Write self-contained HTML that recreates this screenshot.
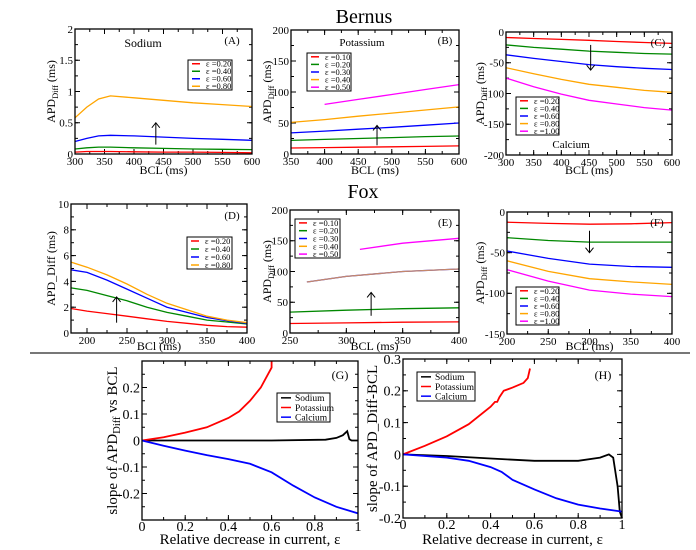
<!DOCTYPE html>
<html><head><meta charset="utf-8"><style>
body{margin:0;background:#fff}
svg{display:block;font-family:"Liberation Serif",serif}
</style></head><body>
<svg id="fig" width="696" height="550" viewBox="0 0 696 550">
<text x="364" y="23" font-size="20" text-anchor="middle">Bernus</text>
<text x="363" y="198" font-size="20" text-anchor="middle">Fox</text>
<line x1="30" y1="353" x2="690" y2="353" stroke="#777" stroke-width="2"/>
</svg>
<script>
// ---- data ----
const A_x=[300,320,340,360,400,450,500,550,600];
const A_r=[0.03,0.04,0.04,0.04,0.035,0.03,0.03,0.025,0.02];
const A_g=[0.08,0.10,0.11,0.11,0.10,0.09,0.08,0.075,0.07];
const A_b=[0.20,0.25,0.29,0.30,0.29,0.27,0.25,0.235,0.22];
const A_o=[0.58,0.75,0.88,0.93,0.90,0.86,0.82,0.79,0.76];
const B_x=[350,400,450,500,550,600];
const B_r=[9.6,10.3,11,11.6,12.3,13];
const B_g=[22,23.5,25,26.5,28,29];
const B_b=[34,37,40,43,46.5,50];
const B_o=[51,55.5,61,66,71,76];
const B_mx=[400,450,500,550,600];
const B_m=[80,88,96,104,112];
const C_x=[300,350,400,450,500,550,600];
const C_r=[-9,-10.5,-12,-13.5,-15.5,-17,-18.5];
const C_g=[-21,-25,-28,-31,-33,-35,-36];
const C_b=[-37,-43,-48,-53,-56.5,-59,-61];
const C_o=[-58,-68,-77,-85,-90,-95,-98];
const C_m=[-75,-89,-101,-111,-117,-123,-127];
const D_x=[180,200,225,250,275,300,325,350,375,400];
const D_r=[1.9,1.7,1.5,1.3,1.1,0.9,0.75,0.6,0.5,0.45];
const D_g=[3.5,3.3,2.9,2.5,2.0,1.6,1.3,1.0,0.85,0.7];
const D_b=[4.9,4.7,4.1,3.4,2.7,2.0,1.6,1.2,0.95,0.75];
const D_o=[5.5,5.1,4.5,3.8,3.0,2.3,1.8,1.3,1.0,0.8];
const E_x=[250,300,350,400];
const E_r=[15.5,16.5,17.5,18];
const E_g=[34,37,39.5,41];
const E_bx=[265,300,350,400];
const E_b=[83,92,100,104];
const E_o=[83,92,100,104];
const E_mx=[312,350,400];
const E_m=[136,146,154];
const F_x=[200,250,300,350,400];
const F_r=[-12.5,-14,-15,-14.5,-13];
const F_g=[-31.6,-35,-37,-37,-37];
const F_b=[-48,-57,-64,-67,-68];
const F_o=[-60,-73,-82,-86,-89];
const F_m=[-71,-85,-96,-101,-104];
const G_kx=[0,0.2,0.4,0.6,0.85,0.9,0.93,0.95,0.96,0.97,1];
const G_k=[0,0,0,0,0.003,0.01,0.02,0.035,0.005,0,0];
const G_rx=[0,0.1,0.2,0.3,0.4,0.45,0.5,0.55,0.6,0.6];
const G_r=[0,0.012,0.03,0.05,0.085,0.11,0.15,0.2,0.275,0.3];
const G_bx=[0,0.1,0.2,0.3,0.4,0.5,0.6,0.7,0.8,0.9,1];
const G_b=[0,-0.02,-0.038,-0.055,-0.07,-0.088,-0.12,-0.17,-0.215,-0.25,-0.275];
const H_kx=[0,0.2,0.4,0.6,0.8,0.9,0.94,0.96,0.98,0.99,1];
const H_k=[0,-0.005,-0.013,-0.02,-0.02,-0.01,0,-0.01,-0.1,-0.18,-0.2];
const H_rx=[0,0.1,0.2,0.3,0.4,0.42,0.43,0.44,0.46,0.5,0.55,0.57,0.58];
const H_r=[0,0.027,0.057,0.095,0.15,0.165,0.165,0.18,0.2,0.21,0.225,0.24,0.27];
const H_bx=[0,0.2,0.3,0.4,0.45,0.5,0.6,0.7,0.8,0.9,1];
const H_b=[0,-0.01,-0.02,-0.04,-0.055,-0.08,-0.11,-0.138,-0.158,-0.17,-0.18];

const RED='#ff0000',GRN='#008800',BLU='#0000ff',ORG='#ffa500',MAG='#ff00ff',BLK='#000';
const NS='http://www.w3.org/2000/svg';
const svg=document.getElementById('fig');
function el(tag,attrs,parent){const e=document.createElementNS(NS,tag);for(const k in attrs)e.setAttribute(k,attrs[k]);(parent||svg).appendChild(e);return e;}

function panel(p){
  const g=el('g',{});
  
  
  const sx=v=>p.L+(v-p.xd[0])/(p.xd[1]-p.xd[0])*(p.R-p.L);
  const sy=v=>p.B-(v-p.yd[0])/(p.yd[1]-p.yd[0])*(p.B-p.T);
  const fs=p.fs||11;
  const xlo=p.xlo||11;
  p.xt.forEach(v=>{const x=sx(v);
    const t=el('line',{x1:x,y1:p.B,x2:x,y2:p.B-5,stroke:'#000'},g);
    el('line',{x1:x,y1:p.T,x2:x,y2:p.T+5,stroke:'#000'},g);
    const l=el('text',{x:x,y:p.B+xlo,'font-size':fs,'text-anchor':'middle'},g);l.textContent=v;
    
  });
  const xm=(p.xt[1]-p.xt[0])/2;
  for(let v=p.xt[0]-xm;v<=p.xd[1];v+=xm){if(v<p.xd[0])continue;const x=sx(v);
    el('line',{x1:x,y1:p.B,x2:x,y2:p.B-3,stroke:'#000'},g);el('line',{x1:x,y1:p.T,x2:x,y2:p.T+3,stroke:'#000'},g);}
  p.yt.forEach(v=>{const y=sy(v);
    const t=el('line',{x1:p.L,y1:y,x2:p.L+5,y2:y,stroke:'#000'},g);
    el('line',{x1:p.R,y1:y,x2:p.R-5,y2:y,stroke:'#000'},g);
    const l=el('text',{x:p.L-2,y:y+fs*0.35,'font-size':fs,'text-anchor':'end'},g);l.textContent=v;
    
  });
  const ym=(p.yt[1]-p.yt[0])/2;
  for(let v=p.yd[0];v<=p.yd[1]+1e-9;v+=ym){const y=sy(v);
    el('line',{x1:p.L,y1:y,x2:p.L+3,y2:y,stroke:'#000'},g);el('line',{x1:p.R,y1:y,x2:p.R-3,y2:y,stroke:'#000'},g);}
  p.series.forEach(s=>{
    const d=s.x.map((v,i)=>(i?'L':'M')+sx(v).toFixed(1)+','+sy(s.y[i]).toFixed(1)).join('');
    const path=el('path',{d:d,fill:'none',stroke:s.c,'stroke-width':p.sw||1.3,opacity:s.op||1},g);
    
    
  });
  const box=el('rect',{x:p.L,y:p.T,width:p.R-p.L,height:p.B-p.T,fill:'none',stroke:'#000','stroke-width':1.3},g);
  
  if(p.leg){const lg=p.leg;
    const lgg=el('g',{},g);
    el('rect',{x:lg.x,y:lg.y,width:lg.w,height:lg.h,fill:'#fff',stroke:'#000','stroke-width':1},lgg);
    const step=lg.h/lg.items.length;
    lg.items.forEach((it,i)=>{const yy=lg.y+step*(i+0.5);
      el('line',{x1:lg.x+4,y1:yy,x2:lg.x+(lg.lw||12),y2:yy,stroke:it[1],'stroke-width':1.5},lgg);
      const t=el('text',{x:lg.x+(lg.tx||18),y:yy+(lg.fs||8.5)*0.35,'font-size':lg.fs||8.5},lgg);t.textContent=it[0];
      });
  }
  (p.texts||[]).forEach(t=>{const e=el('text',{x:t[1],y:t[2],'font-size':t[3]||11,'text-anchor':'middle'},g);e.textContent=t[0];
    });
  if(p.arrow){const a=p.arrow;const x=sx(a[0]),y1=sy(a[1]),y2=sy(a[2]);const dir=y2<y1?1:-1;
    const ag=el('g',{stroke:'#000','stroke-width':1,fill:'none'},g);
    el('line',{x1:x,y1:y1,x2:x,y2:y2},ag);el('path',{d:`M${x-4},${y2+5*dir}L${x},${y2}L${x+4},${y2+5*dir}`},ag);}
  const xl=el('text',{x:(p.L+p.R)/2,y:p.xly,'font-size':p.tfs||12,'text-anchor':'middle'},g);xl.textContent=p.xl;
  
  const yl=el('text',{x:0,y:0,'font-size':p.tfs||12,'text-anchor':'middle',transform:`translate(${p.ylx},${(p.T+p.B)/2}) rotate(-90)`},g);
  
  p.yl.forEach(seg=>{const ts=el('tspan',seg[1]?{dy:3,'font-size':(p.tfs||12)*0.7}:(seg[2]?{dy:-3}:{}),yl);ts.textContent=seg[0];});
}
const eps=(a)=>a.map((v,i)=>['\u03b5 ='+v,[RED,GRN,BLU,ORG,MAG][i]]);
panel({name:'panel-a-sodium',L:75,R:252,T:29,B:154,xd:[300,600],yd:[0,2],xt:[300,350,400,450,500,550,600],yt:[0,0.5,1,1.5,2],
  series:[{x:A_x,y:A_r,c:RED,n:'a-eps-0.20'},{x:A_x,y:A_g,c:GRN,n:'a-eps-0.40'},{x:A_x,y:A_b,c:BLU,n:'a-eps-0.60'},{x:A_x,y:A_o,c:ORG,n:'a-eps-0.80'}],
  leg:{x:188,y:60,w:44,h:30,items:eps(['0.20','0.40','0.60','0.80'])},
  texts:[['Sodium',143,47,12],['(A)',232,44,11]],arrow:[437,0.15,0.5],xl:'BCL (ms)',xly:174,ylx:55,yl:[['APD'],['Diff',1],[' (ms)',0,1]]});
panel({name:'panel-b-potassium',L:291,R:459,T:30,B:154,xd:[350,600],yd:[0,200],xt:[350,400,450,500,550,600],yt:[0,50,100,150,200],
  series:[{x:B_x,y:B_r,c:RED,n:'b-eps-0.10'},{x:B_x,y:B_g,c:GRN,n:'b-eps-0.20'},{x:B_x,y:B_b,c:BLU,n:'b-eps-0.30'},{x:B_x,y:B_o,c:ORG,n:'b-eps-0.40'},{x:B_mx,y:B_m,c:MAG,n:'b-eps-0.50'}],
  leg:{x:307,y:53,w:44,h:38,items:eps(['0.10','0.20','0.30','0.40','0.50'])},
  texts:[['Potassium',362,46,11],['(B)',445,44,11]],arrow:[478,14,46],xl:'BCL (ms)',xly:174,ylx:271,yl:[['APD'],['Diff',1],[' (ms)',0,1]]});
panel({name:'panel-c-calcium',L:506,R:672,T:32,B:155,xd:[300,600],yd:[-200,0],xt:[300,350,400,450,500,550,600],yt:[-200,-150,-100,-50,0],
  series:[{x:C_x,y:C_r,c:RED,n:'c-eps-0.20'},{x:C_x,y:C_g,c:GRN,n:'c-eps-0.40'},{x:C_x,y:C_b,c:BLU,n:'c-eps-0.60'},{x:C_x,y:C_o,c:ORG,n:'c-eps-0.80'},{x:C_x,y:C_m,c:MAG,n:'c-eps-1.00'}],
  leg:{x:516,y:97,w:43,h:38,items:eps(['0.20','0.40','0.60','0.80','1.00'])},
  texts:[['Calcium',571,148,11],['(C)',658,46,11]],arrow:[453,-21,-62],xl:'BCL (ms)',xly:174,ylx:484,yl:[['APD'],['Diff',1],[' (ms)',0,1]]});
panel({name:'panel-d-fox-sodium',L:71,R:247,T:204,B:333,xd:[180,400],yd:[0,10],xt:[200,250,300,350,400],yt:[0,2,4,6,8,10],
  series:[{x:D_x,y:D_r,c:RED,n:'d-eps-0.20'},{x:D_x,y:D_g,c:GRN,n:'d-eps-0.40'},{x:D_x,y:D_b,c:BLU,n:'d-eps-0.60'},{x:D_x,y:D_o,c:ORG,n:'d-eps-0.80'}],
  leg:{x:187,y:237,w:45,h:32,items:eps(['0.20','0.40','0.60','0.80'])},
  texts:[['(D)',232,219,11]],arrow:[237,0.8,2.8],xl:'BCl (ms)',xly:350,ylx:55,yl:[['APD_Diff (ms)']]});
panel({name:'panel-e-fox-potassium',L:290,R:459,T:210,B:333,xd:[250,400],yd:[0,200],xt:[250,300,350,400],yt:[0,50,100,150,200],
  series:[{x:E_x,y:E_r,c:RED,n:'e-eps-0.10'},{x:E_x,y:E_g,c:GRN,n:'e-eps-0.20'},{x:E_bx,y:E_b,c:BLU,n:'e-eps-0.30'},{x:E_bx,y:E_o,c:'#e8a050',n:'e-eps-0.40',op:0.85},{x:E_mx,y:E_m,c:MAG,n:'e-eps-0.50'}],
  leg:{x:295,y:219,w:45,h:39,items:eps(['0.10','0.20','0.30','0.40','0.50'])},
  texts:[['(E)',445,226,11]],arrow:[322,28,66],xl:'BCL (ms)',xly:350,ylx:271,yl:[['APD'],['Diff',1],[' (ms)',0,1]]});
panel({name:'panel-f-fox-calcium',L:507,R:672,T:212,B:334,xd:[200,400],yd:[-150,0],xt:[200,250,300,350,400],yt:[-150,-100,-50,0],
  series:[{x:F_x,y:F_r,c:RED,n:'f-eps-0.20'},{x:F_x,y:F_g,c:GRN,n:'f-eps-0.40'},{x:F_x,y:F_b,c:BLU,n:'f-eps-0.60'},{x:F_x,y:F_o,c:ORG,n:'f-eps-0.80'},{x:F_x,y:F_m,c:MAG,n:'f-eps-1.00'}],
  leg:{x:516,y:287,w:43,h:38,items:eps(['0.20','0.40','0.60','0.80','1.00'])},
  texts:[['(F)',657,226,11]],arrow:[300,-23,-50],xl:'BCL (ms)',xly:350,ylx:484,yl:[['APD'],['Diff',1],[' (ms)',0,1]]});
panel({name:'panel-g-slope-bernus',L:142,R:358,T:361,B:520,xd:[0,1],yd:[-0.3,0.3],xt:[0,0.2,0.4,0.6,0.8,1],yt:[-0.2,-0.1,0,0.1,0.2],fs:14,xlo:11,tfs:15,sw:1.8,
  series:[{x:G_kx,y:G_k,c:BLK,n:'g-sodium'},{x:G_rx,y:G_r,c:RED,n:'g-potassium'},{x:G_bx,y:G_b,c:BLU,n:'g-calcium'}],
  leg:{x:277,y:393,w:53,h:29,fs:9.5,lw:14,tx:18,items:[['Sodium',BLK],['Potassium',RED],['Calcium',BLU]]},
  texts:[['(G)',340,379,12]],xl:'Relative decrease in current,  \u03b5',xly:544,ylx:117,yl:[['slope of APD'],['Diff',1],[' vs BCL',0,1]]});
panel({name:'panel-h-slope-fox',L:403,R:622,T:359,B:518,xd:[0,1],yd:[-0.2,0.3],xt:[0,0.2,0.4,0.6,0.8,1],yt:[-0.2,-0.1,0,0.1,0.2,0.3],fs:14,xlo:11,tfs:15,sw:1.8,
  series:[{x:H_kx,y:H_k,c:BLK,n:'h-sodium'},{x:H_rx,y:H_r,c:RED,n:'h-potassium'},{x:H_bx,y:H_b,c:BLU,n:'h-calcium'}],
  leg:{x:417,y:372,w:58,h:29,fs:9.5,lw:14,tx:18,items:[['Sodium',BLK],['Potassium',RED],['Calcium',BLU]]},
  texts:[['(H)',603,379,12]],xl:'Relative decrease in current,  \u03b5',xly:544,ylx:377,yl:[['slope of APD_Diff-BCL']]});
</script>
</body></html>
